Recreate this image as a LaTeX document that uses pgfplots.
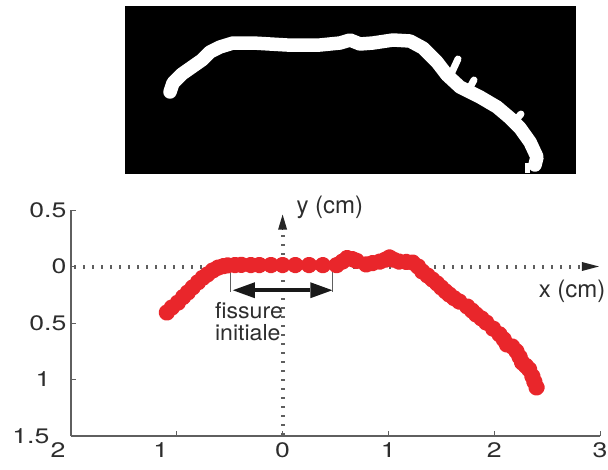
\documentclass[border=0pt]{standalone}
\usepackage{pgfplots}
\pgfplotsset{compat=1.18}
\usepackage{fontspec}
\setmainfont{TeX Gyre Heros}
\usetikzlibrary{arrows.meta}
\definecolor{crackred}{RGB}{233,38,43}
\definecolor{txt}{RGB}{45,45,45}
\definecolor{axgray}{RGB}{95,95,95}
\newcommand{\tl}[1]{\scalebox{1.27}[1]{#1}}
\begin{document}
\begin{tikzpicture}
\useasboundingbox (0pt,0pt) rectangle (608pt,-469pt);
% ---- top image: binarised crack ----
\begin{axis}[at={(125pt,-173pt)}, anchor=south west, scale only axis,
  width=450pt, height=167pt, xmin=125, xmax=575, ymin=6, ymax=173, y dir=reverse,
  axis background/.style={fill=black}, xtick=\empty, ytick=\empty,
  axis line style={draw=black}]
\addplot[white, line width=13.5pt, line cap=round, line join=round] coordinates {
(170,92) (173,83) (182,74) (192,67) (202,60) (210,52) (220,47) (233,43) (253,43)
(287,45) (320,45) (340,43) (350,40) (360,44) (373,43) (393,40) (410,41) (423,48)
(437,62) (447,75) (460,87) (480,97) (497,107) (510,118) (520,128) (530,142)
(537,157) (535,165)};
\addplot[white, line width=7pt, line cap=round] coordinates {(452,72) (458,59)};
\addplot[white, line width=7pt, line cap=round] coordinates {(469,89) (474,80)};
\addplot[white, line width=7pt, line cap=round] coordinates {(514,122) (521,114)};
\addplot[white, line width=5pt] coordinates {(527,163) (527,173)};
\end{axis}
% ---- bottom plot ----
\begin{axis}[at={(71pt,-436pt)}, anchor=south west, scale only axis,
  width=529pt, height=226pt, xmin=-2, xmax=3, ymin=-1.5, ymax=0.5,
  axis x line*=bottom, axis y line*=left,
  xtick={-2,-1,0,1,2,3},
  xticklabels={{\tl{2}\kern26pt},{\tl{1}\kern32pt},\tl{0},\tl{1},\tl{2},\tl{3}},
  ytick={-1.5,-1,-0.5,0,0.5},
  yticklabels={{\tl{1.5}\kern17pt},{\tl{1}\kern16pt},\tl{0.5},\tl{0},\tl{0.5}},
  tick align=inside, major tick length=5pt,
  axis line style={axgray, line width=1.3pt},
  tick style={axgray, line width=1pt},
  tick label style={font=\fontsize{21}{25}\selectfont, text=txt},
  xticklabel style={yshift=-3pt},
  yticklabel style={xshift=-1pt},
  clip=false, /pgf/number format/assume math mode=true]
% dotted axes through the origin
\draw[axgray, line width=4pt, dash pattern=on 1.6pt off 7.4pt] (axis cs:-1.97,0) -- (axis cs:2.86,0);
\draw[-{Triangle[length=17pt,width=9pt,line width=0pt]}, black!85, line width=0.4pt] (axis cs:2.86,0) -- (axis cs:2.99,0);
\draw[axgray, line width=4pt, dash pattern=on 1.6pt off 7.4pt] (axis cs:0,-1.49) -- (axis cs:0,0.33);
\draw[-{Triangle[length=15pt,width=9pt,line width=0pt]}, black!85, line width=0.4pt] (axis cs:0,0.33) -- (axis cs:0,0.46);
% crack profile
\addplot[crackred, line width=8pt, line cap=round, line join=round,
  mark=*, mark size=4.3pt, mark options={fill=crackred, draw=none}] coordinates {
(-1.094,-0.407) (-1.047,-0.363) (-0.99,-0.32) (-0.94,-0.27) (-0.896,-0.23)
(-0.85,-0.185) (-0.80,-0.14) (-0.755,-0.10) (-0.71,-0.07) (-0.66,-0.035)
(-0.61,-0.01) (-0.56,0.003) (-0.52,0.01) (-0.45,0.013) (-0.39,0.015)
(-0.30,0.013) (-0.22,0.013) (-0.11,0.013) (0,0.013) (0.12,0.013) (0.25,0.013)
(0.38,0.012) (0.51,0.012) (0.566,0.044) (0.61,0.075) (0.66,0.065) (0.70,0.05)
(0.79,0.018) (0.85,0.03) (0.92,0.044) (0.97,0.06) (1.01,0.08) (1.05,0.06) (1.10,0.044)
(1.17,0.04) (1.23,0.035) (1.28,0.0) (1.32,-0.044) (1.37,-0.08)
(1.415,-0.115) (1.46,-0.15) (1.50,-0.186) (1.54,-0.22) (1.575,-0.248) (1.62,-0.28)
(1.67,-0.31) (1.745,-0.354) (1.79,-0.39) (1.83,-0.425) (1.88,-0.46)
(1.925,-0.496) (1.99,-0.55) (2.05,-0.60) (2.09,-0.645) (2.12,-0.69) (2.17,-0.708)
(2.21,-0.75) (2.24,-0.80) (2.264,-0.85) (2.30,-0.88) (2.33,-0.91) (2.36,-0.97)
(2.38,-1.02) (2.40,-1.07)};
% initial crack annotation
\draw[axgray, line width=0.8pt] (axis cs:-0.49,0) -- (axis cs:-0.49,-0.23);
\draw[axgray, line width=0.8pt] (axis cs:0.47,0) -- (axis cs:0.47,-0.23);
\draw[{Triangle[length=22pt,width=16pt,line width=0pt]}-{Triangle[length=22pt,width=16pt,line width=0pt]}, black!90, line width=3.5pt]
  (axis cs:-0.47,-0.21) -- (axis cs:0.47,-0.21);
\node[anchor=north west, inner sep=0pt, align=left, text=txt,
  font=\fontsize{22}{22}\selectfont] at (axis cs:-0.64,-0.32) {\scalebox{1.05}[1]{fissure}\\\scalebox{1.05}[1]{initiale}};
\node[anchor=west, inner sep=0pt, text=txt, font=\fontsize{24}{28}\selectfont]
  at (axis cs:0.13,0.52) {y (cm)};
\node[anchor=west, inner sep=0pt, text=txt, font=\fontsize{24}{28}\selectfont]
  at (axis cs:2.42,-0.22) {x (cm)};
\end{axis}
\end{tikzpicture}
\end{document}
